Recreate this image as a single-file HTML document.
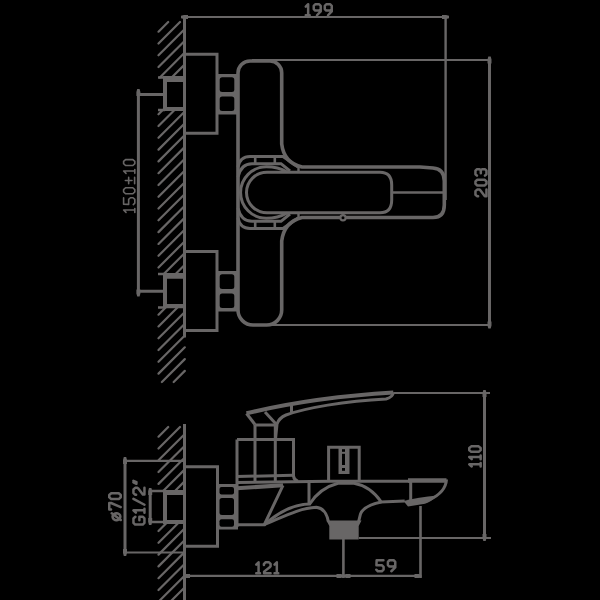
<!DOCTYPE html>
<html><head><meta charset="utf-8">
<style>
html,body{margin:0;padding:0;background:#000;width:600px;height:600px;overflow:hidden}
svg{display:block}
</style></head><body>
<svg width="600" height="600" viewBox="0 0 600 600">
<g fill="none" stroke="#686666" stroke-width="3">
<!-- ===== TOP VIEW ===== -->
<path d="M182 17H448" stroke-width="2.2"/>
<path d="M445.6 17V200" stroke-width="2.4"/>
<path d="M184.5 17V337.5"/>
<path stroke-width="2.2" stroke-linecap="round" d="M158.50 31.70L168.20 22.00M158.50 43.49L179.99 22.00M158.50 55.28L184.80 28.98M158.50 67.07L184.80 40.77M159.86 77.50L184.80 52.56M171.65 77.50L184.80 64.35M183.44 77.50L184.80 76.14M158.50 114.23L162.73 110.00M158.50 126.02L174.52 110.00M158.50 137.81L184.80 111.51M158.50 149.60L184.80 123.30M158.50 161.39L184.80 135.09M158.50 173.18L184.80 146.88M158.50 184.97L184.80 158.67M158.50 196.76L184.80 170.46M158.50 208.55L184.80 182.25M158.50 220.34L184.80 194.04M158.50 232.13L184.80 205.83M158.50 243.92L184.80 217.62M158.50 255.71L184.80 229.41M158.50 267.50L184.80 241.20M163.79 274.00L184.80 252.99M175.58 274.00L184.80 264.78M158.50 314.66L165.66 307.50M158.50 326.45L177.45 307.50M158.50 338.24L184.80 311.94M158.50 350.03L184.80 323.73M158.50 361.82L184.80 335.52M158.50 373.61L184.80 347.31M161.90 382.00L184.80 359.10M173.69 382.00L184.80 370.89"/>
<!-- plates -->
<path d="M184.5 54.3H217V133.3H184.5"/>
<path d="M184.5 251.5H217V330.5H184.5"/>
<!-- connector extension lines -->
<path d="M158 77.5H165M158 110H165M158 274H165M158 307.5H165" stroke-width="2.6"/>
<!-- left dim 150±10 -->
<path d="M138.4 92V294" />
<path d="M137 94.4H165M137 291.3H165"/>
<!-- body top view -->
<path d="M238 310V73A12 12 0 0 1 250 61H270A11.7 11.7 0 0 1 281.7 72.7V144Q284 163 302 167H420L433 168Q444.3 169 444.3 181V205Q444.3 217.5 433 217.5H302Q284 222 281.7 241V310A15 15 0 0 1 266.7 325H253A15 15 0 0 1 238 310Z" stroke-width="3.6"/>
<!-- 203 dim -->
<path d="M252 60H491M265 325H491" stroke-width="2.2"/>
<path d="M489.5 58V327"/>
<!-- handle outer left end (inside cartridge) -->
<path d="M287 172Q278 166.8 266.3 166.8A25.7 25.7 0 0 0 266.3 218.3Q278 218.3 287 213"/>
<!-- inner handle D -->
<path d="M380 172.2H267A20.5 20.3 0 0 0 267 212.8H380Q391.7 212.8 391.7 200V185Q391.7 172.2 380 172.2Z"/>
<path d="M391.7 192.5H444.3" stroke-width="2.6"/>
<!-- cartridge rings -->
<path d="M238 167Q240 156.6 250 156.6H283L298 167"/>
<path d="M238 177Q241 163.7 252 163.7H281L290 171"/>
<path d="M238 218Q240 228.4 250 228.4H283L298 218"/>
<path d="M238 208Q241 221.3 252 221.3H281L290 214"/>
<path d="M255.2 156.6V163.7M274.8 156.6V163.7M255.2 221.3V228.4M274.8 221.3V228.4" stroke-width="2.6"/>
<path d="M298.5 167V172.2M298.5 212.8V218" stroke-width="2.4"/>
<circle cx="343" cy="217.8" r="2.6" fill="#000" stroke-width="2.2"/>
</g>
<!-- connectors top view (filled frames) -->
<g fill="#686666">
<path d="M163 76H185V111H163ZM167 82V107H183V82Z" fill-rule="evenodd"/>
<path d="M163 273H185V308.3H163ZM167 278.8V304H183V278.8Z" fill-rule="evenodd"/>
<!-- nuts -->
<rect x="216" y="74" width="23" height="40.5"/>
<rect x="216" y="271" width="23" height="40.5"/>
</g>
<g fill="#000">
<rect x="219.7" y="77.3" width="14.6" height="14.6" rx="2.5"/><rect x="219.7" y="96.6" width="14.6" height="14.4" rx="2.5"/>
<rect x="219.7" y="274.3" width="14.6" height="14.6" rx="2.5"/><rect x="219.7" y="293.6" width="14.6" height="14.4" rx="2.5"/>
</g>
<g fill="#686666">
</g>

<!-- ===== BOTTOM VIEW ===== -->
<g fill="none" stroke="#686666" stroke-width="3">
<path d="M184.5 424V600"/>
<path stroke-width="2.2" stroke-linecap="round" d="M158.50 436.70L168.20 427.00M158.50 448.49L179.99 427.00M158.50 460.28L184.80 433.98M158.50 472.07L184.80 445.77M158.50 483.86L184.80 457.56M163.15 491.00L184.80 469.35M174.94 491.00L184.80 481.14M158.50 531.02L167.52 522.00M158.50 542.81L179.31 522.00M158.50 554.60L184.80 528.30M158.50 566.39L184.80 540.09M158.50 578.18L184.80 551.88M158.50 589.97L184.80 563.67M158.50 601.76L184.80 575.46M162.05 610.00L184.80 587.25"/>
<path d="M184.5 466.7H217.5V546.3H184.5"/>
<path d="M150 491H165M150 522H165" stroke-width="2.6"/>
<path d="M125 460.8H184.5M125 552.5H184.5" stroke-width="2.2"/>
<path d="M125 461V552"/>
<path d="M150.2 491V522"/>
<path d="M184.5 575.8H421" stroke-width="2.2"/>
<path d="M343.4 538V578M420.5 506V578" stroke-width="2.6"/>
<!-- body side -->
<path d="M237 439.5H293.5V476Q294 480 298 481.5M237 439.5V527"/>
<path d="M255 425V482M275.3 425V482"/>
<path d="M237 476.5L293 475.3"/>
<path d="M237 482.5L330 481.3H410"/>
<path d="M408 480.5H446.5" stroke-width="4.4"/>
<path d="M446.5 479.5C446 488 440 495 429 500"/>
<path d="M255 425H277"/>
<path d="M246.5 413.3C285 404 335 396 393.3 392.5" stroke-width="4.2"/>
<path d="M246.5 413.5L255 424.5"/>
<path d="M265 412L276.5 424.5"/>
<path d="M275.5 439L277 424Q279 418 286 415C305 408 345 401 386 399Q393 397 393.3 392.5"/>
<path d="M291.5 403V412"/>
<path d="M393.3 393H490" stroke-width="2.2"/>
<path d="M484.5 391V539"/>
<path d="M328.6 481V447.3H359.2V481"/>
<path d="M237 488.2L283 485.3" stroke-width="4"/>
<path d="M283 485.3L264.3 524.7H237"/>
<path d="M264.3 524.7C280 511 294 504 309.7 504Q320 488 338 483.3H354Q370 486 381.3 502L404.7 501"/>
<path d="M264.3 524.7C285 516 300 508 316.3 507.3C324 508 327 514 328.5 522"/>
<path d="M381.3 502C372 504 363 507 360.5 514L358.5 522"/>
<path d="M309 482V504"/>
<path d="M410.7 481V500"/>
<path d="M359 538H491" stroke-width="2.2"/>
</g>
<g fill="#686666">
<path d="M163 490H185V524H163ZM167 495V520H183V495Z" fill-rule="evenodd"/>
<rect x="216" y="484" width="22" height="45.5"/>
<path d="M326.5 520.5H361.5L358.7 526V539.5H329.3V526Z"/>
<rect x="338.5" y="447" width="11" height="27"/>
<path d="M403.5 501Q418 497 437.5 495.5Q431 502 425 503.8L408 506.5Z"/>
</g>
<g fill="#000">
<rect x="219.5" y="487" width="14.5" height="7.6" rx="2"/>
<rect x="219.5" y="498" width="14.5" height="17" rx="2.5"/>
<rect x="219.5" y="519.2" width="14.5" height="7.6" rx="2"/>
<rect x="342" y="449.2" width="3" height="2.6"/><rect x="342" y="453.8" width="3" height="11.2"/><rect x="342" y="468" width="3" height="2.8"/>
</g>

<path fill="#686666" d="M181.0 15.8L181.0 18.2L184.0 19.0L188.0 19.0L188.0 15.0L184.0 15.0ZM449.0 15.8L449.0 18.2L446.0 19.0L442.0 19.0L442.0 15.0L446.0 15.0ZM488.3 56.5L490.7 56.5L491.5 59.5L491.5 63.5L487.5 63.5L487.5 59.5ZM488.3 328.5L490.7 328.5L491.5 325.5L491.5 321.5L487.5 321.5L487.5 325.5ZM137.2 89.0L139.6 89.0L140.4 92.0L140.4 96.0L136.4 96.0L136.4 92.0ZM137.2 296.5L139.6 296.5L140.4 293.5L140.4 289.5L136.4 289.5L136.4 293.5ZM483.3 390.0L485.7 390.0L486.5 393.0L486.5 397.0L482.5 397.0L482.5 393.0ZM483.3 541.0L485.7 541.0L486.5 538.0L486.5 534.0L482.5 534.0L482.5 538.0ZM123.8 457.0L126.2 457.0L127.0 460.0L127.0 464.0L123.0 464.0L123.0 460.0ZM123.8 556.0L126.2 556.0L127.0 553.0L127.0 549.0L123.0 549.0L123.0 553.0ZM149.0 488.0L151.4 488.0L152.2 491.0L152.2 495.0L148.2 495.0L148.2 491.0ZM149.0 525.0L151.4 525.0L152.2 522.0L152.2 518.0L148.2 518.0L148.2 522.0ZM183.0 574.8L183.0 577.2L186.0 578.0L190.0 578.0L190.0 574.0L186.0 574.0ZM343.5 574.8L343.5 577.2L340.5 578.0L336.5 578.0L336.5 574.0L340.5 574.0ZM343.5 574.8L343.5 577.2L346.5 578.0L350.5 578.0L350.5 574.0L346.5 574.0ZM421.5 574.8L421.5 577.2L418.5 578.0L414.5 578.0L414.5 574.0L418.5 574.0Z"/>
<path fill="none" stroke="#686666" stroke-width="2.5" stroke-linejoin="round" stroke-linecap="round" d="M305.75 6.64L308.16 4.25L308.16 15.25M305.75 15.25L309.65 15.25M320.70 9.03L319.21 10.56L315.22 10.56L313.74 9.03L313.74 5.78L315.22 4.25L319.21 4.25L320.70 5.78L320.70 11.42L316.99 15.25M331.75 9.03L330.26 10.56L326.27 10.56L324.79 9.03L324.79 5.78L326.27 4.25L330.26 4.25L331.75 5.78L331.75 11.42L328.04 15.25"/>
<path fill="none" stroke="#686666" stroke-width="2.5" stroke-linejoin="round" stroke-linecap="round" d="M256.25 564.64L258.57 562.25L258.57 573.25M256.25 573.25L259.99 573.25M263.91 564.93L263.91 564.16L265.51 562.25L268.99 562.25L270.59 563.97L270.59 566.27L269.70 567.32L264.09 571.62L264.09 573.25L270.59 573.25M274.51 564.64L276.82 562.25L276.82 573.25M274.51 573.25L278.25 573.25"/>
<path fill="none" stroke="#686666" stroke-width="2.5" stroke-linejoin="round" stroke-linecap="round" d="M383.40 560.25L376.64 560.25L376.45 565.22L381.83 565.22L383.60 566.95L383.60 569.53L381.83 571.25L377.82 571.25L376.25 569.72M395.25 565.03L393.68 566.56L389.47 566.56L387.90 565.03L387.90 561.78L389.47 560.25L393.68 560.25L395.25 561.78L395.25 567.42L391.33 571.25"/>
<path fill="none" stroke="#686666" stroke-width="2.5" stroke-linejoin="round" stroke-linecap="round" d="M478.13 196.35L477.36 196.35L475.45 194.72L475.45 191.18L477.17 189.55L479.47 189.55L480.52 190.46L484.82 196.17L486.45 196.17L486.45 189.55M475.45 183.75L475.45 181.48L477.36 179.67L484.54 179.67L486.45 181.48L486.45 183.75L484.54 185.56L477.36 185.56L475.45 183.75M476.98 175.68L475.45 174.23L475.45 170.60L476.98 169.15L479.47 169.15L480.81 170.33L480.81 173.32M480.81 170.33L482.15 169.15L484.92 169.15L486.45 170.60L486.45 174.23L484.92 175.68"/>
<path fill="none" stroke="#686666" stroke-width="2.5" stroke-linejoin="round" stroke-linecap="round" d="M471.73 466.45L469.25 464.24L480.65 464.24M480.65 466.45L480.65 462.89M471.73 459.16L469.25 456.95L480.65 456.95M480.65 459.16L480.65 455.59M469.25 450.17L469.25 448.05L471.23 446.35L478.67 446.35L480.65 448.05L480.65 450.17L478.67 451.86L471.23 451.86L469.25 450.17"/>
<path fill="none" stroke="#686666" stroke-width="2.5" stroke-linejoin="round" stroke-linecap="round" d="M116.45 513.22L117.94 513.48L119.21 514.24L120.05 515.37L120.35 516.70L120.05 518.03L119.21 519.16L117.94 519.92L116.45 520.18L114.96 519.92L113.69 519.16L112.85 518.03L112.55 516.70L112.85 515.37L113.69 514.24L114.96 513.48L116.45 513.22M120.75 520.05L111.75 513.35M111.05 509.42L109.25 509.42L109.25 502.99L111.05 502.99L120.75 507.10M109.25 497.27L109.25 495.04L111.25 493.25L118.75 493.25L120.75 495.04L120.75 497.27L118.75 499.06L111.25 499.06L109.25 497.27"/>
<path fill="none" stroke="#686666" stroke-width="2.5" stroke-linejoin="round" stroke-linecap="round" d="M135.36 516.73L133.45 518.48L133.45 522.89L135.17 524.55L142.73 524.55L144.45 522.89L144.45 518.48L142.73 516.73L139.38 516.73L139.38 520.13M135.84 512.68L133.45 510.29L144.45 510.29M144.45 512.68L144.45 508.82M144.45 504.77L133.45 498.79M136.13 494.74L135.36 494.74L133.45 493.09L133.45 489.50L135.17 487.84L137.47 487.84L138.52 488.76L142.82 494.56L144.45 494.56L144.45 487.84M136.51 483.79L133.45 482.32M136.51 482.14L133.45 480.85"/>
<path fill="none" stroke="#686666" stroke-width="1.6" stroke-linejoin="round" stroke-linecap="round" d="M126.03 212.40L123.60 210.03L134.80 210.03M134.80 212.40L134.80 208.57M123.60 197.90L123.60 204.19L128.66 204.38L128.66 199.36L130.42 197.72L133.05 197.72L134.80 199.36L134.80 203.10L133.24 204.56M123.60 191.88L123.60 189.60L125.55 187.78L132.85 187.78L134.80 189.60L134.80 191.88L132.85 193.71L125.55 193.71L123.60 191.88M125.35 180.57L131.98 180.57M128.66 183.77L128.66 177.38M134.61 183.77L134.61 177.38M126.03 173.37L123.60 171.00L134.80 171.00M134.80 173.37L134.80 169.54M123.60 163.70L123.60 161.42L125.55 159.60L132.85 159.60L134.80 161.42L134.80 163.70L132.85 165.53L125.55 165.53L123.60 163.70"/>
</svg>
</body></html>
